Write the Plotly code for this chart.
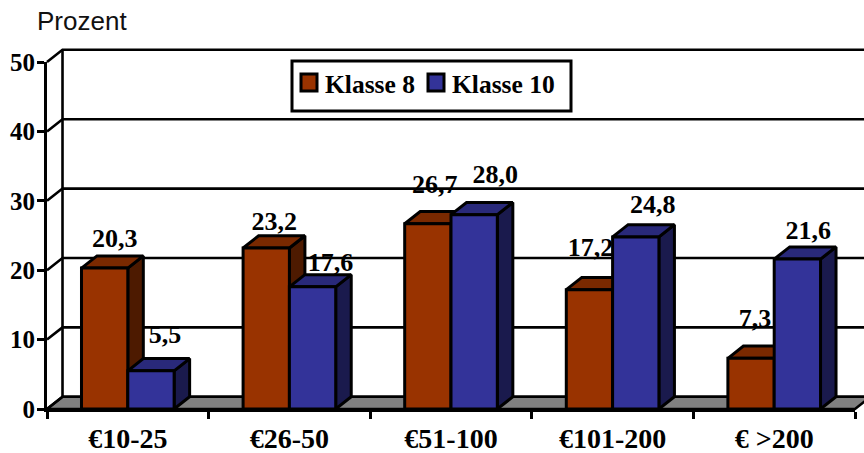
import plotly.graph_objects as go

categories = ["€10-25", "€26-50", "€51-100", "€101-200", "€ >200"]
klasse_8 = [20.3, 23.2, 26.7, 17.2, 7.3]
klasse_10 = [5.5, 17.6, 28.0, 24.8, 21.6]
y_ticks = [0, 10, 20, 30, 40, 50]

# Hand-placed data label offsets in pixels from each bar's front top centre
shift_8 = [(10, 28), (8, 24), (7, 37), (1, 40), (4, 38)]
shift_10 = [(14, 34), (18, 22), (21, 38), (17, 30), (11, 27)]

# Page size and the front plane of the chart, in pixels
WIDTH, HEIGHT = 864, 453
LEFT, RIGHT, TOP, BOTTOM = 47, 855, 62, 409
PX_PER_CAT = (RIGHT - LEFT) / len(categories)
PX_PER_UNIT = (BOTTOM - TOP) / y_ticks[-1]

# Oblique projection of the chart's depth, in axis units
DX = 0.096
DY = 1.76
BAR_LEFT = 0.2134
BAR_W = 0.2866

INK = "#000000"
SERIF = "Liberation Serif"
FACES = {
    "Klasse 8": dict(front="#993300", side="#4d1a00", top="#7a2900"),
    "Klasse 10": dict(front="#333399", side="#1a1a4d", top="#29297a"),
}

fig = go.Figure()


def poly(xs, ys, fill, width=3.0, axes=("x2", "y2")):
    fig.add_trace(go.Scatter(
        x=xs + xs[:1], y=ys + ys[:1], mode="lines", fill="toself", fillcolor=fill,
        line=dict(color=INK, width=width), xaxis=axes[0], yaxis=axes[1],
        showlegend=False, hoverinfo="skip",
    ))


def wall_line(xs, ys, width=2.6):
    fig.add_trace(go.Scatter(
        x=xs, y=ys, mode="lines", line=dict(color=INK, width=width),
        xaxis="x", yaxis="y", showlegend=False, hoverinfo="skip",
    ))


def bar(x0, value, name):
    c = FACES[name]
    x1 = x0 + BAR_W
    poly([x1, x1 + DX, x1 + DX, x1], [0, DY, value + DY, value], c["side"])
    poly([x0, x0 + DX, x1 + DX, x1], [value, value + DY, value + DY, value], c["top"])
    poly([x0, x1, x1, x0], [0, 0, value, value], c["front"])


def value_label(x_center, value, shift):
    # Each label sits between its own bar and the next one, so a taller
    # neighbour can cover part of it.
    fig.add_trace(go.Scatter(
        x=[x_center + shift[0] / PX_PER_CAT], y=[value + shift[1] / PX_PER_UNIT],
        mode="text", text=[f"{value:.1f}".replace(".", ",")],
        textposition="middle center", cliponaxis=False,
        xaxis="x2", yaxis="y2",
        textfont=dict(family=SERIF, size=26, color=INK, weight="bold"),
        showlegend=False, hoverinfo="skip",
    ))


def px_x(x):
    return x / WIDTH


def px_y(y):
    return 1 - y / HEIGHT


n = len(categories)

# Floor and back wall live on a hidden full-page subplot so they can run past
# the front plane of the axes.
poly([0, n, n + DX, DX], [0, 0, DY, DY], "#808080", 2.6, axes=("x", "y"))
wall_line([DX, DX], [DY, y_ticks[-1] + DY])
for v in y_ticks:
    wall_line([0, DX, n + DX], [v, v + DY, v + DY])

for i in range(n):
    left = i + BAR_LEFT
    bar(left, klasse_8[i], "Klasse 8")
    value_label(left + BAR_W / 2, klasse_8[i], shift_8[i])
    bar(left + BAR_W, klasse_10[i], "Klasse 10")
    value_label(left + 1.5 * BAR_W, klasse_10[i], shift_10[i])

# Framed key placed over the gridlines
shapes = [dict(type="rect", xref="paper", yref="paper", layer="above",
               x0=px_x(292), x1=px_x(571), y0=px_y(111), y1=px_y(61),
               fillcolor="#ffffff", line=dict(color=INK, width=3))]
annotations = []
for name, swatch_x, text_x in (("Klasse 8", 301, 323), ("Klasse 10", 428, 450)):
    shapes.append(dict(type="rect", xref="paper", yref="paper", layer="above",
                       x0=px_x(swatch_x), x1=px_x(swatch_x + 16),
                       y0=px_y(91), y1=px_y(74),
                       fillcolor=FACES[name]["front"], line=dict(color=INK, width=3)))
    annotations.append(dict(
        x=px_x(text_x), y=px_y(84), xref="paper", yref="paper", text=f"<b>{name}</b>",
        xanchor="left", yanchor="middle", showarrow=False,
        font=dict(family=SERIF, size=25.5, color=INK),
    ))
annotations.append(dict(
    x=px_x(35), y=px_y(21), xref="paper", yref="paper", text="Prozent",
    xanchor="left", yanchor="middle", showarrow=False,
    font=dict(family="Liberation Sans", size=26, color="#111111"),
))

fig.update_layout(
    width=WIDTH, height=HEIGHT, autosize=False,
    margin=dict(l=0, r=0, t=0, b=0, autoexpand=False),
    plot_bgcolor="rgba(0,0,0,0)", paper_bgcolor="#ffffff",
    showlegend=False, shapes=shapes, annotations=annotations,
    # Hidden axes spanning the page at the same scale as the visible ones
    xaxis=dict(visible=False, domain=[0, 1],
               range=[-LEFT / PX_PER_CAT, (WIDTH - LEFT) / PX_PER_CAT]),
    yaxis=dict(visible=False, domain=[0, 1],
               range=[-(HEIGHT - BOTTOM) / PX_PER_UNIT, BOTTOM / PX_PER_UNIT]),
    xaxis2=dict(
        domain=[px_x(LEFT), px_x(RIGHT)], anchor="y2",
        range=[0, n], tickmode="array", automargin=False,
        tickvals=[i + 0.5 for i in range(n)], ticktext=categories,
        ticks="", showgrid=False, zeroline=False,
        showline=True, linecolor=INK, linewidth=3,
        tickfont=dict(family=SERIF, size=28, color=INK, weight="bold"),
        ticklabelstandoff=2,
        minor=dict(tickmode="array", tickvals=list(range(n + 1)), ticks="outside",
                   ticklen=7, tickwidth=3, tickcolor=INK, showgrid=False),
    ),
    yaxis2=dict(
        domain=[px_y(BOTTOM), px_y(TOP)], anchor="x2",
        range=[0, 50], tickmode="array", tickvals=y_ticks, automargin=False,
        ticks="outside", ticklen=7, tickwidth=3, tickcolor=INK,
        showgrid=False, zeroline=False,
        showline=True, linecolor=INK, linewidth=3,
        tickfont=dict(family=SERIF, size=25, color=INK, weight="bold"),
        ticklabelstandoff=-3,
    ),
)

fig.write_html("out.html")
